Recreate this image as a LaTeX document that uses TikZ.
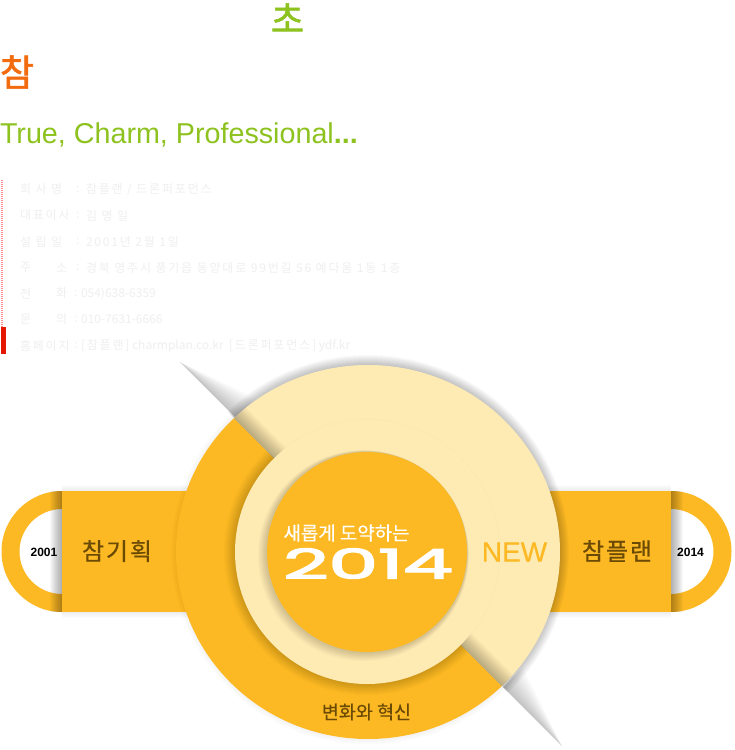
\documentclass[tikz,border=0pt]{standalone}
\usepackage{fontspec}
\setmainfont{Noto Sans CJK KR}
\newfontfamily\latinfont{Liberation Sans}
\newfontfamily\logofont{Poppins}
\usetikzlibrary{calc}
\definecolor{gold}{HTML}{FCB923}
\definecolor{cream}{HTML}{FEEBB3}
\definecolor{brownink}{HTML}{6B4A05}
\definecolor{leaf}{HTML}{8DC21F}
\definecolor{tangerine}{HTML}{F26C0F}
\definecolor{faint}{HTML}{EFEFEF}
\newcommand{\hanspaced}[1]{{\addfontfeature{LetterSpace=15}#1}}
\tikzset{
  x=1pt,y=-1pt,
  txt/.style={inner sep=0pt,outer sep=0pt},
  infotxt/.style={txt,anchor=west,text=faint,font=\fontsize{12}{12}\selectfont},
  sidetxt/.style={txt,text=brownink,font=\fontsize{24}{24}\selectfont\addfontfeature{LetterSpace=8,FakeBold=0.5}},
  yeartxt/.style={txt,text=black,font=\latinfont\bfseries\fontsize{12}{12}\selectfont},
  shade step/.style={black,opacity=#1},
}
\newcommand{\lowerleft}{(100,284) -- (700,884) -- (100,884) -- cycle}
\newcommand{\upperright}{(100,284) -- (700,884) -- (700,284) -- cycle}
\begin{document}
\begin{tikzpicture}
\useasboundingbox (0,0) rectangle (734,750);
\fill[white] (0,0) rectangle (734,750);

% headings
\node[txt,text=leaf,font=\fontsize{36}{36}\selectfont\addfontfeature{FakeBold=1.5}] (hA) at (287.5,18) {초};
\node[txt,text=tangerine,font=\fontsize{37}{37}\selectfont\addfontfeature{FakeBold=1.5}] (hB) at (17,72) {참};
\node[txt,anchor=base west,text=leaf,font=\latinfont\fontsize{28.7}{30}\selectfont] (hC) at (0,143) {True, Charm, Professional\textbf{...}};

% info block
\draw[color=red!45!white,line width=2pt,dash pattern=on 1pt off 1pt] (2,180) -- (2,327);
\fill[red!80!orange!90!black] (1,327) rectangle (6,354);
\node[infotxt] (l1) at (20,189.5) {\hanspaced{회 사 명}};
\node[infotxt] (c1) at (76,189.5) {:};
\node[infotxt] (v1) at (86,189.5) {\hanspaced{참플랜 / 드론퍼포먼스}};
\node[infotxt] (l2) at (20,215.5) {\hanspaced{대표이사}};
\node[infotxt] (c2) at (76,215.5) {:};
\node[infotxt] (v2) at (86,215.5) {\hanspaced{김 명 일}};
\node[infotxt] (l3) at (20,241.5) {\hanspaced{설 립 일}};
\node[infotxt] (c3) at (76,241.5) {:};
\node[infotxt] (v3) at (86,241.5) {\hanspaced{2001년 2월 1일}};
\node[infotxt] (l4a) at (20,267.5) {주};
\node[infotxt] (l4b) at (56,267.5) {소};
\node[infotxt] (c4) at (76,267.5) {:};
\node[infotxt] (v4) at (86,267.5) {\hanspaced{경북 영주시 풍기읍 동양대로 99번길 56 예다움 1동 1층}};
\node[infotxt] (l5a) at (20,293.5) {전};
\node[infotxt] (l5b) at (56,293.5) {화};
\node[infotxt] (c5) at (74,293.5) {:};
\node[infotxt] (v5) at (81,293.5) {054)638-6359};
\node[infotxt] (l6a) at (20,319.5) {문};
\node[infotxt] (l6b) at (56,319.5) {의};
\node[infotxt] (c6) at (74,319.5) {:};
\node[infotxt] (v6) at (81,319.5) {010-7631-6666};
\node[infotxt] (l7) at (20,345.5) {\hanspaced{홈페이지}};
\node[infotxt] (c7) at (74,345.5) {:};
\node[infotxt] (v7) at (81,345.5) {\hanspaced{[참플랜]} charmplan.co.kr\ \ \hanspaced{[드론퍼포먼스]} ydf.kr};

% diagonal wedge shadows outside the disc (both on the upper right of the diagonal)
\foreach \i in {1,...,20}{
  \fill[shade step=.011] (180,362) -- (236,418) -- ({236+\i*1.0},{418-\i*1.0}) -- cycle;
  \fill[shade step=.011] (562,746) -- (503,687) -- ({503+\i*1.0},{687-\i*1.0}) -- cycle;
}

% side rings
\fill[gold,even odd rule] (62,491) arc[start angle=90,end angle=270,radius=60.5pt] -- (62,594) arc[start angle=270,end angle=90,radius=42.5pt] -- cycle;
\fill[gold,even odd rule] (671,491) arc[start angle=90,end angle=-90,radius=60.5pt] -- (671,594) arc[start angle=-90,end angle=90,radius=42.5pt] -- cycle;

% side band shadows
\foreach \i in {1,...,12}{
  \fill[shade step=.026] ({62-\i},491) rectangle (62,612);
  \fill[shade step=.026] (671,491) rectangle ({671+\i},612);
}
\foreach \i in {1,...,6}{
  \fill[shade step=.012] (62,{491-\i}) rectangle (200,{612+\i});
  \fill[shade step=.012] (540,{491-\i}) rectangle (671,{612+\i});
}
\fill[gold] (62,491) rectangle (190,612);
\fill[gold] (550,491) rectangle (671,612);
\node[sidetxt] (left) at (117,551) {참기획};
\node[sidetxt] (right) at (617,551) {참플랜};
\node[yeartxt] (y1) at (44,552) {2001};
\node[yeartxt] (y2) at (690.5,552) {2014};

% shadows cast by the large disc
\begin{scope}
  \clip \upperright;
  \foreach \i in {1,...,10}{
    \fill[shade step=.024] (368,552) ellipse[x radius={(191+\i)*1pt},y radius={(187+\i)*1pt}];
  }
\end{scope}
\begin{scope}
  \clip \lowerleft;
  \foreach \i in {1,...,6}{
    \fill[shade step=.008] (368,552) ellipse[x radius={(191+\i)*1pt},y radius={(187+\i)*1pt}];
  }
\end{scope}

% the two halves of the large disc
\begin{scope}
  \clip \lowerleft;
  \fill[gold] (368,552) ellipse[x radius=192pt,y radius=187pt];
\end{scope}
\begin{scope}
  \clip \upperright;
  \fill[cream] (368,552) ellipse[x radius=192pt,y radius=187pt];
  \clip (368,552) ellipse[x radius=192pt,y radius=187pt];
  \foreach \i in {1,...,14}{
    \fill[shade step=.02] (100,284) -- (700,884) -- ({700+\i*.8},{884-\i*.8}) -- ({100+\i*.8},{284-\i*.8}) -- cycle;
  }
\end{scope}

% middle disc and its shadow
\begin{scope}
  \clip \lowerleft;
  \foreach \i in {1,...,12}{
    \fill[shade step=.015] (367,552) circle[radius={(131+\i)*1pt}];
  }
\end{scope}
\begin{scope}
  \clip \upperright;
  \foreach \i in {1,...,3}{
    \fill[shade step=.003] (367,552) circle[radius={(131+\i)*1pt}];
  }
\end{scope}
\fill[cream] (367,552) circle[radius=132pt];

% inner disc and its shadow
\foreach \i in {1,...,9}{
  \fill[shade step=.018] ({367-\i*.4},{552+\i*.4}) circle[radius={(100+\i*.6)*1pt}];
}
\fill[gold] (367,552) circle[radius=100pt];

% texts on the disc
\node[txt,text=white,font=\fontsize{18.9}{19}\selectfont\addfontfeature{FakeBold=0.4}] (slogan) at (346.5,533) {새롭게 도약하는};
\node[txt,text=white,font=\logofont\fontsize{41}{42}\selectfont\addfontfeature{FakeBold=3},xscale=1.92] (year) at (368,563.5) {2014};
\node[txt,text=gold,font=\latinfont\fontsize{28}{28}\selectfont\addfontfeature{FakeBold=0.5}] (new) at (514.5,552) {NEW};
\node[txt,text=brownink,font=\fontsize{18.5}{19}\selectfont\addfontfeature{FakeBold=0.4}] (bottom) at (366.5,712) {변화와 혁신};
\end{tikzpicture}
\end{document}
